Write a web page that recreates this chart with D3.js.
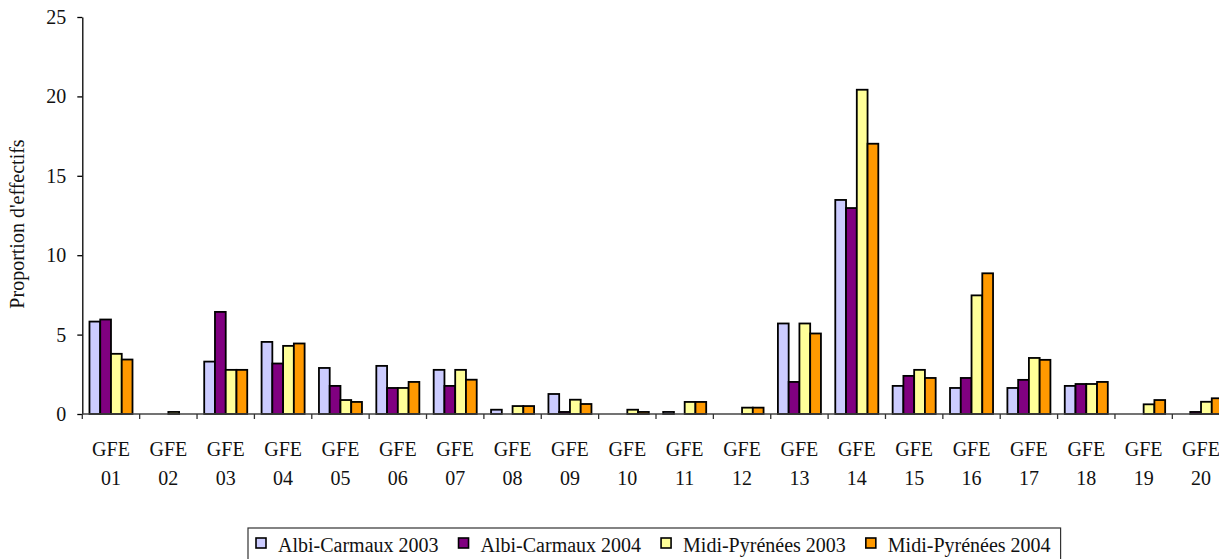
<!DOCTYPE html>
<html>
<head>
<meta charset="utf-8">
<script src="https://cdn.jsdelivr.net/npm/d3@7"></script>
<style>
  body { margin: 0; background: #fff; }
  svg { display: block; font-family: "Liberation Serif", "Times New Roman", serif; }
</style>
</head>
<body>
<div id="viz"></div>
<script>

var categories = ['01','02','03','04','05','06','07','08','09','10',
                  '11','12','13','14','15','16','17','18','19','20'];
var seriesNames = ['Albi-Carmaux 2003', 'Albi-Carmaux 2004', 'Midi-Pyrénées 2003', 'Midi-Pyrénées 2004'];
var albi2003 = [5.82, 0, 3.3, 4.54, 2.9, 3.03, 2.78, 0.27, 1.26, 0, 0.13, 0, 5.7, 13.48, 1.77, 1.64, 1.64, 1.77, 0, 0];
var albi2004 = [5.95, 0, 6.43, 3.18, 1.77, 1.64, 1.77, 0, 0.13, 0, 0, 0, 2.02, 12.97, 2.4, 2.27, 2.15, 1.89, 0, 0.13];
var midi2003 = [3.79, 0.13, 2.78, 4.29, 0.88, 1.64, 2.78, 0.5, 0.9, 0.27, 0.76, 0.4, 5.7, 20.42, 2.78, 7.47, 3.53, 1.89, 0.61, 0.77];
var midi2004 = [3.43, 0, 2.78, 4.44, 0.76, 2.02, 2.16, 0.5, 0.63, 0.13, 0.76, 0.4, 5.07, 17.02, 2.27, 8.86, 3.41, 2.02, 0.88, 0.99];
var yTicks = [0, 5, 10, 15, 20, 25];
var yTitle = "Proportion d'effectifs";
var labelPrefix = 'GFE';

var colors = ['#CCCCFF', '#800080', '#FFFF99', '#FF9900'];

drawChart();

function drawChart() {
  var width = 1219, height = 559,
      plotLeft = 82.3, step = 57.37,
      plotTop = 17, plotBottom = 414;

  var series = [albi2003, albi2004, midi2003, midi2004];

  var svg = d3.select('#viz').append('svg')
    .attr('width', width)
    .attr('height', height);

  var xScale = d3.scaleBand()
    .domain(categories)
    .range([plotLeft, plotLeft + step * categories.length])
    .paddingInner(0.25)
    .paddingOuter(0.125);

  var xInner = d3.scaleBand()
    .domain(d3.range(series.length))
    .range([0, xScale.bandwidth()]);

  var yScale = d3.scaleLinear()
    .domain([0, 25])
    .range([plotBottom, plotTop]);

  // bars
  var rows = [];
  categories.forEach(function(c, i) {
    series.forEach(function(s, j) {
      rows.push({cat: c, s: j, v: s[i]});
    });
  });

  svg.append('g').selectAll('rect')
    .data(rows.filter(function(d) { return d.v > 0; }))
    .enter().append('rect')
      .attr('x', function(d) { return xScale(d.cat) + xInner(d.s); })
      .attr('width', xInner.bandwidth())
      .attr('y', function(d) { return yScale(d.v); })
      .attr('height', function(d) { return yScale(0) - yScale(d.v); })
      .attr('fill', function(d) { return colors[d.s]; })
      .attr('stroke', '#000')
      .attr('stroke-width', 1.8);

  // y axis
  var yAxis = d3.axisLeft(yScale)
    .tickValues(yTicks)
    .tickSize(5)
    .tickSizeOuter(0)
    .tickPadding(11);

  var yGuide = svg.append('g')
    .attr('transform', 'translate(' + plotLeft + ',0)')
    .call(yAxis);
  yGuide.select('.domain').attr('stroke', '#000').attr('stroke-width', 1.3);
  yGuide.selectAll('.tick line').attr('stroke', '#000').attr('stroke-width', 1.3);
  yGuide.selectAll('.tick text')
    .attr('font-family', '"Liberation Serif", serif')
    .attr('font-size', 20)
    .attr('fill', '#111');

  // x axis
  var xGuide = svg.append('g');
  xGuide.append('line')
    .attr('x1', plotLeft).attr('x2', plotLeft + step * categories.length)
    .attr('y1', plotBottom).attr('y2', plotBottom)
    .attr('stroke', '#444').attr('stroke-width', 1.3);

  xGuide.selectAll('line.tk')
    .data(d3.range(categories.length + 1))
    .enter().append('line')
      .attr('class', 'tk')
      .attr('x1', function(i) { return plotLeft + i * step; })
      .attr('x2', function(i) { return plotLeft + i * step; })
      .attr('y1', plotBottom).attr('y2', plotBottom + 5)
      .attr('stroke', '#333').attr('stroke-width', 1.3);

  var xLabels = xGuide.selectAll('text')
    .data(categories)
    .enter().append('text')
      .attr('text-anchor', 'middle')
      .attr('font-size', 20)
      .attr('fill', '#111');
  xLabels.append('tspan')
    .attr('x', function(d) { return xScale(d) + xScale.bandwidth() / 2; })
    .attr('y', 456)
    .text(labelPrefix);
  xLabels.append('tspan')
    .attr('x', function(d) { return xScale(d) + xScale.bandwidth() / 2; })
    .attr('y', 485)
    .text(function(d) { return d; });

  // y title
  svg.append('text')
    .attr('transform', 'translate(24,224) rotate(-90)')
    .attr('text-anchor', 'middle')
    .attr('font-size', 20)
    .attr('fill', '#111')
    .text(yTitle);

  // legend
  var legend = svg.append('g');
  var legendBox = legend.append('rect')
    .attr('x', 248).attr('y', 528)
    .attr('height', 40)
    .attr('fill', '#fff')
    .attr('stroke', '#333')
    .attr('stroke-width', 1.2);

  var lx = 256;
  seriesNames.forEach(function(name, j) {
    legend.append('rect')
      .attr('x', lx).attr('y', 538)
      .attr('width', 10).attr('height', 10)
      .attr('fill', colors[j])
      .attr('stroke', '#000')
      .attr('stroke-width', 1.6);
    var t = legend.append('text')
      .attr('x', lx + 22).attr('y', 552)
      .attr('font-size', 20)
      .attr('fill', '#111')
      .text(name);
    lx = lx + 22 + t.node().getComputedTextLength() + 20;
  });
  legendBox.attr('width', lx - 248 - 10);
}

</script>
</body>
</html>
